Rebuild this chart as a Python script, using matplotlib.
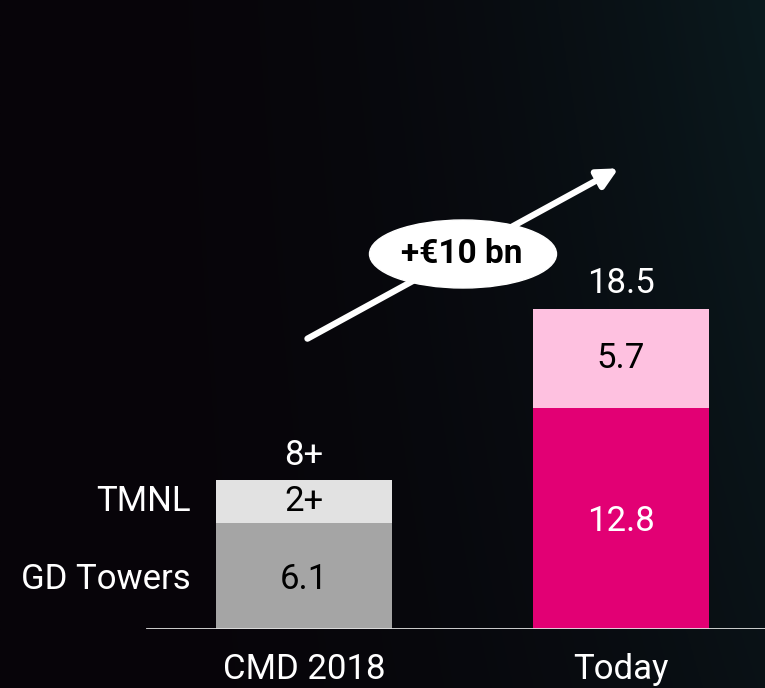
import matplotlib.pyplot as plt
import numpy as np
from matplotlib.patches import Ellipse

# Data
categories = ["CMD 2018", "Today"]
bottom_vals = [6.1, 12.8]
top_vals = [2.5, 5.7]
bottom_labels = ["6.1", "12.8"]
top_labels = ["2+", "5.7"]
total_labels = ["8+", "18.5"]
series_names = ["GD Towers", "TMNL"]

W, H = 765, 688
plt.rcParams['font.family'] = ['Roboto', 'DejaVu Sans']

fig = plt.figure(figsize=(W / 100, H / 100), dpi=100)

# background gradient
bg = fig.add_axes([0, 0, 1, 1])
xx = np.linspace(0, 1, 300)
yy = np.linspace(0, 1, 300)
X, Y = np.meshgrid(xx, yy)
t = np.clip(X ** 2.2 * (0.6 + 0.4 * Y), 0, 1)
left = np.array([7, 4, 9]) / 255
right = np.array([11, 26, 30]) / 255
img = left[None, None, :] * (1 - t[..., None]) + right[None, None, :] * t[..., None]
bg.imshow(img, extent=[0, 1, 0, 1], origin="lower", aspect="auto")
bg.axis("off")

# main axes: baseline at y=629 px, 17.3 px per unit
base_px = 629
ppu = 17.3
ax = fig.add_axes([0, (H - base_px) / H, 1, base_px / H])
ax.patch.set_alpha(0)
ax.set_ylim(0, base_px / ppu)
step = 317
ax.set_xlim(-304 / step, (W - 304) / step)
x = np.arange(len(categories))
width = 176 / step

bottom_colors = ["#a5a5a5", "#e20074"]
top_colors = ["#e2e2e2", "#fec1e0"]
ax.bar(x, bottom_vals, width, color=bottom_colors, zorder=2)
ax.bar(x, top_vals, width, bottom=bottom_vals, color=top_colors, zorder=2)

fs = 25
fw = "normal"
dy = -0.2  # nudge so the glyphs sit like the original
for i in range(len(categories)):
    ax.text(x[i], bottom_vals[i] / 2 + dy, bottom_labels[i], ha="center", va="center",
            fontsize=fs, fontweight=fw, color="black" if i == 0 else "white", zorder=3)
    ax.text(x[i], bottom_vals[i] + top_vals[i] / 2, top_labels[i], ha="center",
            va="center", fontsize=fs, fontweight=fw, color="black", zorder=3)
    ax.text(x[i], bottom_vals[i] + top_vals[i] + 0.5, total_labels[i], ha="center",
            va="bottom", fontsize=fs, fontweight=fw, color="white", zorder=3)
    ax.text(x[i], -1.4, categories[i], ha="center", va="top", fontsize=fs,
            fontweight=fw, color="white")

# series labels left of first bar
ax.text(x[0] - width / 2 - 0.08, bottom_vals[0] / 2 + dy, series_names[0], ha="right",
        va="center", fontsize=fs, fontweight=fw, color="white")
ax.text(x[0] - width / 2 - 0.08, bottom_vals[0] + top_vals[0] / 2, series_names[1],
        ha="right", va="center", fontsize=fs, fontweight=fw, color="white")

ax.axhline(0, xmin=147 / W, xmax=1, color="#e0e0e0", lw=2, zorder=4)
ax.axis("off")

# growth arrow with ellipse label
bg.annotate("", xy=(621 / W, 1 - 167 / H), xytext=(305 / W, 1 - 340 / H),
            xycoords="axes fraction",
            arrowprops=dict(arrowstyle="-|>,head_length=1.2,head_width=0.6",
                            color="white", lw=4.5))
bg.add_patch(Ellipse((463 / W, 1 - 254 / H), 187 / W, 68 / H, color="white", zorder=5))
bg.text(462 / W, 1 - 254 / H, "+€10 bn", ha="center", va="center", fontsize=24,
        fontweight="bold", color="black", zorder=6)
bg.set_xlim(0, 1)
bg.set_ylim(0, 1)

fig.savefig("out.png", dpi=100)
